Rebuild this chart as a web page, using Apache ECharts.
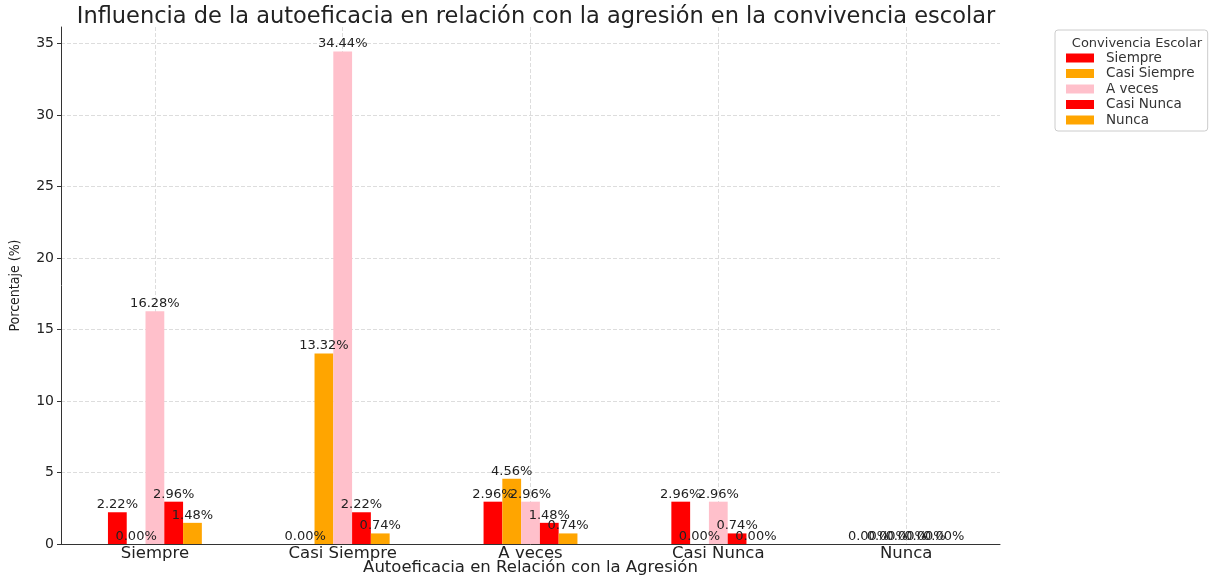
<!DOCTYPE html>
<html><head><meta charset="utf-8">
<script src="https://cdn.jsdelivr.net/npm/echarts@6/dist/echarts.min.js"></script>
<style>html,body{margin:0;padding:0;background:#fff}#c{width:1210px;height:579px}</style>
</head><body><div id="c"></div>
<script>
const categories = ['Siempre', 'Casi Siempre', 'A veces', 'Casi Nunca', 'Nunca'];
const seriesNames = ['Siempre', 'Casi Siempre', 'A veces', 'Casi Nunca', 'Nunca'];
const siempre = [2.22, 0.00, 2.96, 2.96, 0.00];
const casiSiempre = [0.00, 13.32, 4.56, 0.00, 0.00];
const aVeces = [16.28, 34.44, 2.96, 2.96, 0.00];
const casiNunca = [2.96, 2.22, 1.48, 0.74, 0.00];
const nunca = [1.48, 0.74, 0.74, 0.00, 0.00];
const colors = ['#ff0000', '#ffa500', '#ffc0cb', '#ff0000', '#ffa500'];
const yTicks = [0, 5, 10, 15, 20, 25, 30, 35];

const values = [siempre, casiSiempre, aVeces, casiNunca, nunca];
const chart = echarts.init(document.getElementById('c'));
const font = 'DejaVu Sans';
chart.setOption({
  animation: false,
  title: [
    {text: 'Influencia de la autoeficacia en relación con la agresión en la convivencia escolar',
     left: 531, top: 1, textAlign: 'center',
     textStyle: {fontFamily: 'DejaVu Sans', fontWeight: 'normal', fontSize: 22.5, color: '#222'}},
    {text: 'Convivencia Escolar', left: 1132, top: 32, textAlign: 'center',
     textStyle: {fontFamily: font, fontWeight: 'normal', fontSize: 13, color: '#333'}}
  ],
  legend: {
    orient: 'vertical', left: 1055, top: 30,
    padding: [21, 13, 4, 11], itemGap: 1.5, itemWidth: 28, itemHeight: 9,
    borderColor: '#ccc', borderWidth: 1, borderRadius: 3,
    icon: 'rect',
    textStyle: {fontFamily: font, fontSize: 13.5, color: '#333', lineHeight: 14, padding: [0, 0, 0, 7]},
    data: seriesNames.map((n, i) => ({name: n + (i >= 3 ? ' ' : ''), itemStyle: {color: colors[i]}}))
  },
  grid: {left: 61, right: 210, top: 27, bottom: 35, containLabel: false, outerBoundsMode: 'none'},
  xAxis: {
    type: 'category', data: categories,
    name: 'Autoeficacia en Relación con la Agresión', nameLocation: 'middle', nameGap: 15,
    nameMoveOverlap: false,
    nameTextStyle: {fontFamily: font, fontSize: 16.5, color: '#222'},
    axisLine: {lineStyle: {color: '#333', width: 1}},
    axisTick: {alignWithLabel: true, length: 4, lineStyle: {color: '#333'}},
    axisLabel: {fontFamily: font, fontSize: 16.5, color: '#222', margin: 1},
    splitLine: {show: true, alignWithLabel: true, lineStyle: {color: '#ddd', type: [4, 2], width: 1}}
  },
  yAxis: {
    type: 'value', min: 0, max: 36.162, interval: 5,
    name: 'Porcentaje (%)', nameLocation: 'middle', nameGap: 39,
    nameTextStyle: {fontFamily: 'DejaVu Sans Condensed', fontSize: 14, color: '#222'},
    axisLine: {show: true, lineStyle: {color: '#333', width: 1}},
    axisTick: {show: true, length: 4, lineStyle: {color: '#333'}},
    axisLabel: {fontFamily: font, fontSize: 14, color: '#222', margin: 7, showMaxLabel: false,
      formatter: v => yTicks.includes(v) ? String(v) : ''},
    splitLine: {show: true, showMaxLine: false, lineStyle: {color: '#ddd', type: [4, 2], width: 1}}
  },
  series: values.map((arr, i) => ({
    name: seriesNames[i] + (i >= 3 ? ' ' : ''),
    type: 'bar', data: arr,
    barGap: '0%', barCategoryGap: '50%',
    itemStyle: {color: colors[i]},
    label: {show: true, position: 'top', distance: 1, formatter: p => p.value.toFixed(2) + '%',
      fontFamily: font, fontSize: 13, color: '#222'}
  }))
});
</script></body></html>
